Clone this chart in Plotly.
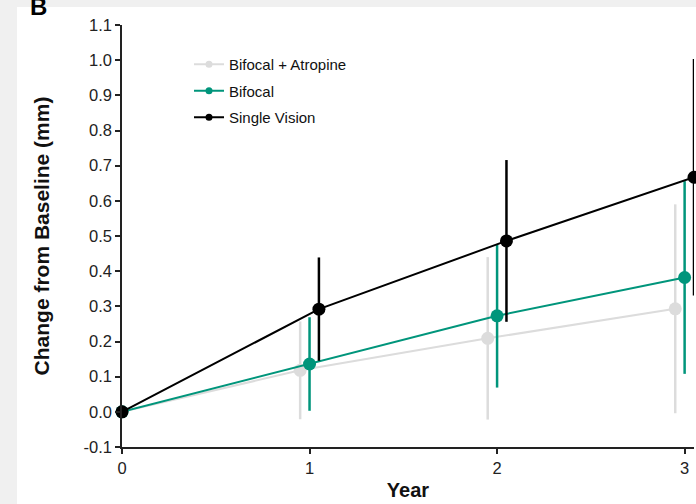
import plotly.graph_objects as go

years = [0, 1, 2, 3]
series_names = ["Bifocal + Atropine", "Bifocal", "Single Vision"]
ba_mean = [0.0, 0.118, 0.209, 0.293]
ba_ci = [0.0, 0.139, 0.231, 0.297]
bf_mean = [0.0, 0.136, 0.273, 0.382]
bf_ci = [0.0, 0.133, 0.204, 0.274]
sv_mean = [0.0, 0.292, 0.486, 0.667]
sv_ci = [0.0, 0.147, 0.230, 0.336]
x_ticks = [0, 1, 2, 3]
y_ticks = [-0.1, 0.0, 0.1, 0.2, 0.3, 0.4, 0.5, 0.6, 0.7, 0.8, 0.9, 1.0, 1.1]
y_tick_labels = ["-0.1", "0.0", "0.1", "0.2", "0.3", "0.4", "0.5", "0.6", "0.7", "0.8", "0.9", "1.0", "1.1"]

colors = ["#dcdcdc", "#00957b", "#000000"]
dodges = [-0.05, 0.0, 0.05]
means = [ba_mean, bf_mean, sv_mean]
cis = [ba_ci, bf_ci, sv_ci]

FONT = "Liberation Sans, Arial, sans-serif"

fig = go.Figure()
for name, m, c, col, d in zip(series_names, means, cis, colors, dodges):
    xs = [y + (d if y != 0 else 0) for y in years]
    fig.add_trace(go.Scatter(
        x=xs, y=m, mode="lines+markers", name=name, showlegend=False,
        line=dict(color=col, width=2),
        marker=dict(color=col, size=13),
        error_y=dict(type="data", array=c, visible=True, color=col, thickness=2.5, width=0),
        cliponaxis=False,
    ))
for i, (name, col) in enumerate(zip(series_names, colors)):
    fig.add_trace(go.Scatter(
        x=[None], y=[None], mode="lines+markers", name=name, legendgroup=str(i),
        line=dict(color=col, width=2), marker=dict(color=col, size=7),
    ))

# background: gray outer strip, white panel
fig.add_shape(type="rect", xref="paper", yref="paper",
              x0=(17 - 122) / 572, x1=1.2, y0=-0.3, y1=(447 - 7) / 422,
              fillcolor="white", line=dict(width=0), layer="below")

fig.add_annotation(text="<b>B</b>", xref="paper", yref="paper",
                   x=(38 - 122) / 572, y=(447 - 22) / 422, xanchor="center", yanchor="bottom",
                   showarrow=False, font=dict(family=FONT, size=24, color="black"))

fig.update_layout(
    width=696, height=504,
    margin=dict(l=122, r=2, t=25, b=57),
    paper_bgcolor="#f0f0f0", plot_bgcolor="white",
    font=dict(family=FONT, size=16, color="#222"),
    legend=dict(x=(189 - 122) / 572, y=(447 - 48) / 422, xanchor="left", yanchor="top",
                bgcolor="rgba(0,0,0,0)", font=dict(size=15, color="#111"),
                traceorder="grouped", tracegroupgap=4),
    xaxis=dict(range=[0, 3.05], tickvals=x_ticks, ticks="outside", ticklen=5, tickwidth=1.5,
               tickcolor="#222", showline=True, linecolor="#222", linewidth=1.5,
               showgrid=False, zeroline=False, tickfont=dict(size=16.5),
               title=dict(text="<b>Year</b>", font=dict(size=20, color="#111"), standoff=7)),
    yaxis=dict(range=[-0.1, 1.1], tickvals=y_ticks, ticktext=y_tick_labels, ticks="outside",
               ticklen=5, tickwidth=1.5, tickcolor="#222", showline=True, linecolor="#222",
               linewidth=1.5, showgrid=False, zeroline=False, tickfont=dict(size=16.5),
               title=dict(text="<b>Change from Baseline (mm)</b>", font=dict(size=21, color="#111"),
                          standoff=28)),
)

fig.write_html("out.html")
